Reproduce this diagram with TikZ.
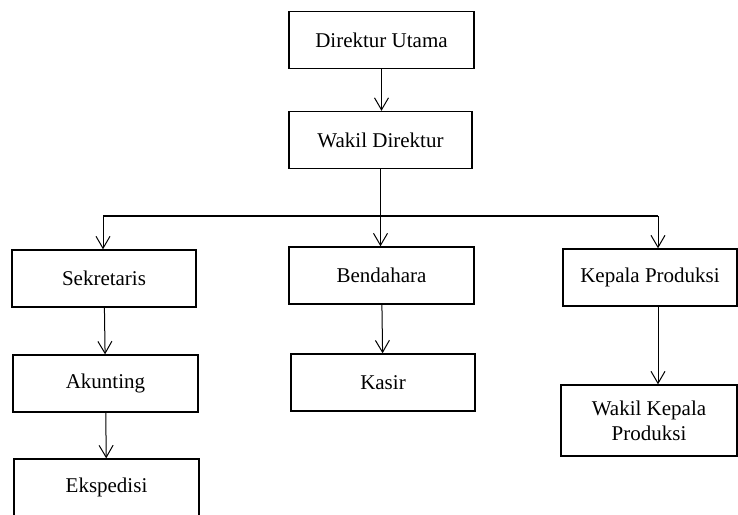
\documentclass[tikz,border=0pt]{standalone}
\usepackage{fontspec}
\setmainfont{Liberation Serif}
\usetikzlibrary{arrows.meta}

\tikzset{
  unit/.style={draw, line width=0.7pt, minimum height=28.5pt, inner sep=0pt,
    align=center, font=\fontsize{10.5}{12.5}\selectfont},
  link/.style={line width=0.5pt, -{Straight Barb[length=6pt,width=7pt]}}
}

\begin{document}
\begin{tikzpicture}[x=0.5pt, y=-0.5pt]
  \useasboundingbox (0,0) rectangle (738,514);
  \clip (0,0) rectangle (738,514);
  % top
  \node[unit, minimum width=92.5pt] (utama) at (381.5,40) {Direktur Utama};
  \node[unit, minimum width=91.5pt] (wakil) at (380.5,140) {Wakil Direktur};
  % second row
  \node[unit, minimum width=92pt] (sekretaris) at (104,278.5) {Sekretaris};
  \node[unit, minimum width=92.5pt] (bendahara) at (381.5,275.5) {Bendahara};
  \node[unit, minimum width=87pt] (produksi) at (650,277.5) {Kepala Produksi};
  % lower rows
  \node[unit, minimum width=92.5pt] (akunting) at (105.5,383.5) {Akunting};
  \node[unit, minimum width=92.5pt] (ekspedisi) at (106.5,487.5) {Ekspedisi};
  \node[unit, minimum width=92pt] (kasir) at (383,382.5) {Kasir};
  \node[unit, minimum width=88pt, minimum height=35.5pt] (wakilprod) at (649,420.5) {Wakil Kepala\\Produksi};
  % bus
  \coordinate (busL) at (103,216);
  \coordinate (busR) at (658,216);
  \draw[line width=0.7pt] (busL) -- (busR);
  % connectors
  \draw[link] (utama.south) -- (utama.south |- wakil.north);
  \draw[link] (wakil.south) -- (wakil.south |- bendahara.north);
  \draw[link] (busL) -- (busL |- sekretaris.north);
  \draw[link] (busR) -- (busR |- produksi.north);
  \draw[link] (sekretaris) -- (akunting);
  \draw[link] (akunting) -- (ekspedisi);
  \draw[link] (bendahara) -- (kasir);
  \draw[link] (produksi.south -| busR) -- (busR |- wakilprod.north);
\end{tikzpicture}
\end{document}
